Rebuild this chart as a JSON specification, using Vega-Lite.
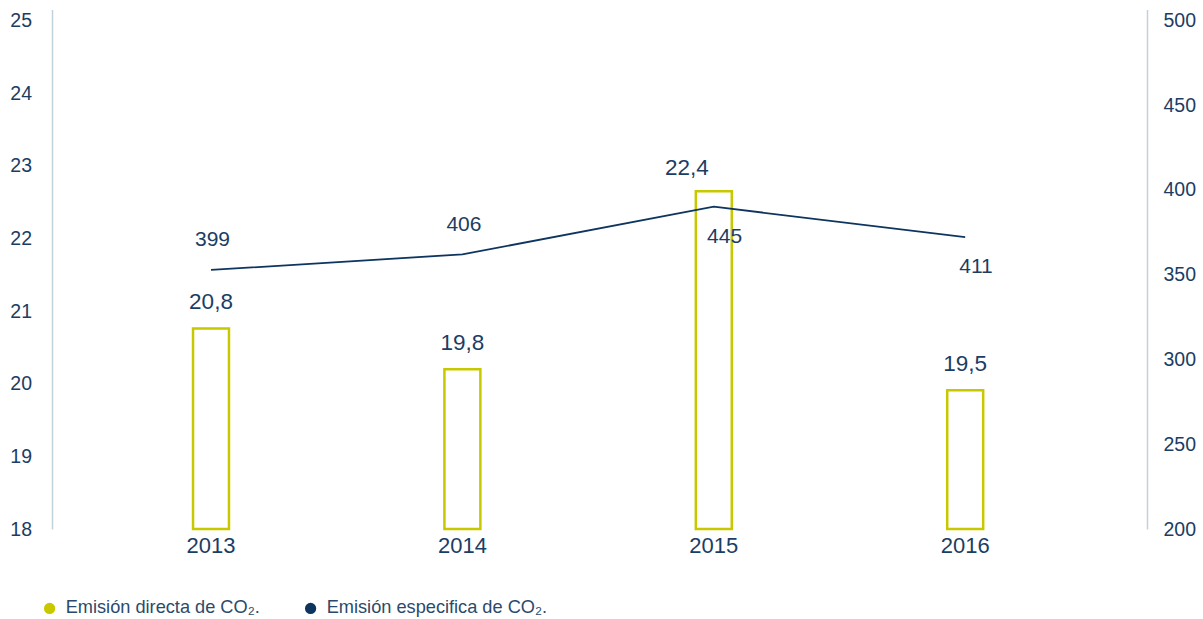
{
  "$schema": "https://vega.github.io/schema/vega-lite/v6.json",
  "width": 1095,
  "height": 519.5,
  "autosize": "none",
  "padding": {"left": 52, "top": 9.5, "right": 56, "bottom": 90},
  "background": "white",
  "config": {"view": {"stroke": null}, "font": "Liberation Sans"},
  "data": {"values": [
    {"year": "2013", "directa": 20.76, "directaLabel": "20,8", "especifica": 352.8, "especificaLabel": "399"},
    {"year": "2014", "directa": 20.2, "directaLabel": "19,8", "especifica": 362.0, "especificaLabel": "406"},
    {"year": "2015", "directa": 22.65, "directaLabel": "22,4", "especifica": 390.1, "especificaLabel": "445"},
    {"year": "2016", "directa": 19.91, "directaLabel": "19,5", "especifica": 372.2, "especificaLabel": "411"}
  ]},
  "encoding": {
    "x": {
      "field": "year", "type": "ordinal",
      "scale": {"paddingInner": 0.857, "paddingOuter": 0.6063, "align": 0.4626},
      "axis": {"title": null, "domain": false, "ticks": false, "labelAngle": 0, "labelFontSize": 22, "labelColor": "#1c3d63", "labelPadding": 6.5, "labelFont": "Liberation Sans"}
    }
  },
  "layer": [
    {
      "encoding": {
        "y": {
          "field": "directa", "type": "quantitative",
          "scale": {"domain": [18, 25.15], "nice": false, "zero": false},
          "axis": {"orient": "left", "title": null, "values": [18, 19, 20, 21, 22, 23, 24, 25], "grid": false, "ticks": false, "domainColor": "#c2d2dd", "domainWidth": 1.5, "labelFontSize": 19.5, "labelColor": "#1c3d63", "labelPadding": 20.5, "labelFont": "Liberation Sans"}
        }
      },
      "layer": [
        {
          "mark": {"type": "bar", "filled": false, "strokeWidth": 2.5},
          "encoding": {
            "y2": {"datum": 18},
            "color": {
              "datum": "Emisión directa de CO₂.",
              "scale": {"domain": ["Emisión directa de CO₂.", "Emisión especifica de CO₂."], "range": ["#c8c800", "#0d355f"]},
              "legend": {
                "title": null, "orient": "none", "legendX": -11.5, "legendY": 589.5, "direction": "horizontal",
                "symbolType": "circle", "symbolSize": 95, "labelFontSize": 18.2, "labelColor": "#2b4a6b", "labelFont": "Liberation Sans",
                "labelOffset": 7, "labelLimit": 500, "columnPadding": 41, "padding": 0,
                "encode": {"symbols": {"update": {"fill": {"scale": "color", "field": "value"}, "stroke": {"value": "transparent"}}}}
              }
            }
          }
        },
        {
          "transform": [{"filter": "datum.year != '2015'"}],
          "mark": {"type": "text", "dy": -26, "fontSize": 22.5, "color": "#1c3d63", "font": "Liberation Sans"},
          "encoding": {"text": {"field": "directaLabel"}}
        },
        {
          "transform": [{"filter": "datum.year == '2015'"}],
          "mark": {"type": "text", "dy": -23, "dx": -27, "fontSize": 22.5, "color": "#1c3d63", "font": "Liberation Sans"},
          "encoding": {"text": {"field": "directaLabel"}}
        }
      ]
    },
    {
      "encoding": {
        "y": {
          "field": "especifica", "type": "quantitative",
          "scale": {"domain": [200, 506.43], "nice": false, "zero": false},
          "axis": {"orient": "right", "title": null, "values": [200, 250, 300, 350, 400, 450, 500], "grid": false, "ticks": false, "domainColor": "#c2d2dd", "domainWidth": 1.5, "labelFontSize": 19.5, "labelColor": "#1c3d63", "labelPadding": 16, "labelFont": "Liberation Sans"}
        }
      },
      "layer": [
        {
          "mark": {"type": "line", "strokeWidth": 1.8},
          "encoding": {
            "color": {
              "datum": "Emisión especifica de CO₂.",
              "legend": {
                "title": null, "orient": "none", "legendX": -11.5, "legendY": 589.5, "direction": "horizontal",
                "symbolType": "circle", "symbolSize": 95, "labelFontSize": 18.2, "labelColor": "#2b4a6b", "labelFont": "Liberation Sans",
                "labelOffset": 7, "labelLimit": 500, "columnPadding": 41, "padding": 0,
                "encode": {"symbols": {"update": {"fill": {"scale": "color", "field": "value"}, "stroke": {"value": "transparent"}}}}
              }
            }
          }
        },
        {
          "transform": [{"filter": "datum.year == '2013' || datum.year == '2014'"}],
          "mark": {"type": "text", "dy": -29.5, "dx": 1.5, "fontSize": 21, "color": "#1c3d63", "font": "Liberation Sans"},
          "encoding": {"text": {"field": "especificaLabel"}}
        },
        {
          "transform": [{"filter": "datum.year == '2015' || datum.year == '2016'"}],
          "mark": {"type": "text", "dy": 30, "dx": 10.75, "fontSize": 21, "color": "#1c3d63", "font": "Liberation Sans"},
          "encoding": {"text": {"field": "especificaLabel"}}
        }
      ]
    }
  ],
  "resolve": {"scale": {"y": "independent"}}
}
